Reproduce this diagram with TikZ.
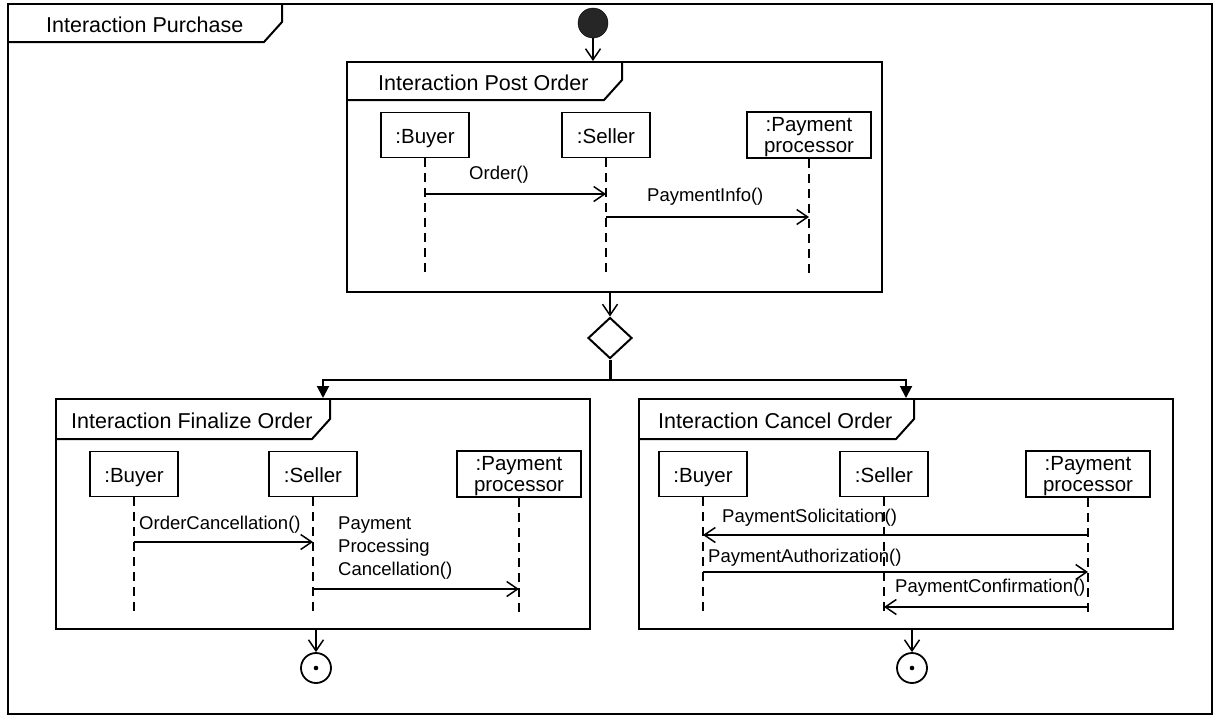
\documentclass[tikz,border=0pt]{standalone}
\usepackage{fontspec}
\setmainfont{Liberation Sans}
\usetikzlibrary{arrows.meta, positioning, shapes.geometric}

\begin{document}
\begin{tikzpicture}[x=1pt, y=-1pt, >={Straight Barb[length=11pt,width=15pt]},
  lifebox/.style={draw, line width=1.8pt, align=center, minimum width=88pt, minimum height=45pt, inner sep=1pt, font=\fontsize{20.5}{23}\selectfont},
  onebox/.style={lifebox, text height=19pt, text depth=2.3pt},
  twobox/.style={lifebox, minimum width=124pt, minimum height=46pt, text height=34pt, text depth=0pt, font=\fontsize{20.5}{21}\selectfont},
  life/.style={line width=1.8pt, dash pattern=on 9pt off 6pt},
  msg/.style={->, line width=1.5pt},
  lbl/.style={anchor=west, inner sep=0pt, align=left, font=\fontsize{18.5}{23}\selectfont},
  title/.style={anchor=west, inner sep=0pt, font=\fontsize{21.5}{26}\selectfont},
  frame/.style={draw, line width=2pt, inner sep=0pt},
  branch/.style={-{Triangle[length=12pt,width=12pt]}, line width=2pt}]
  \useasboundingbox (0,0) rectangle (1219,721);
  % Rahmen
  \node[frame, minimum width=1204pt, minimum height=710pt] (outer) at (610,359) {};
  \node[frame, minimum width=535pt, minimum height=230pt] (post) at (614.5,177) {};
  \node[frame, minimum width=534pt, minimum height=230pt] (fin) at (323,514) {};
  \node[frame, minimum width=534pt, minimum height=230pt] (can) at (906,514) {};
  \foreach \f/\w/\d in {outer/257/39pt, post/258/39pt, fin/257/41pt, can/258/41pt}
    \draw[line width=2pt] ([yshift=-\d]\f.north west) -- ++(\w,0) -- ++(18,-20) coordinate (tab) -- (tab |- \f.north);
  \node[title] (outerT) at (46,25) {Interaction Purchase};
  \node[title] (postT) at (378,83) {Interaction Post Order};
  \node[title] (finT) at (71,421) {Interaction Finalize Order};
  \node[title] (canT) at (658,421) {Interaction Cancel Order};
  % Ablauf
  \node[circle, draw, fill=black!85, minimum size=30pt, inner sep=0pt] (start) at (593,23) {};
  \draw[msg] (start) -- (start |- post.north);
  \node[diamond, draw, line width=2pt, minimum width=44pt, minimum height=41pt, inner sep=0pt] (dec) at (610,338) {};
  \draw[msg] (post.south -| dec) -- (dec.north);
  \coordinate (fork) at (610,380);
  \draw[line width=3pt] (dec.south) -- (fork);
  \draw[branch] (fork) -| (fin.north);
  \draw[branch] (fork) -| (can.north);
  \node[circle, draw, line width=1.8pt, minimum size=30pt, inner sep=0pt] (endF) at (316,668) {};
  \node[circle, draw, line width=1.8pt, minimum size=30pt, inner sep=0pt] (endC) at (912,668) {};
  \fill (endF.center) circle (2.3pt);
  \fill (endC.center) circle (2.3pt);
  \draw[msg] (fin.south -| endF) -- (endF.north);
  \draw[msg] (can.south -| endC) -- (endC.north);
  % Post Order
  \node[onebox] (buyerP) at (425,135) {:Buyer};
  \node[onebox] (sellerP) at (606,135) {:Seller};
  \node[twobox] (procP) at (809,135) {:Payment\\processor};
  \foreach \n in {buyerP, sellerP, procP}
    \draw[life] (\n.south) -- (\n |- 0,277);
  \draw[msg] (buyerP |- 0,194) -- (sellerP |- 0,194);
  \node[lbl] (mOrder) at (469,175) {Order()};
  \draw[msg] (sellerP |- 0,217) -- (procP |- 0,217);
  \node[lbl] (mInfo) at (647,197) {PaymentInfo()};
  % Finalize Order
  \node[onebox] (buyerF) at (134,474) {:Buyer};
  \node[onebox] (sellerF) at (313,474) {:Seller};
  \node[twobox] (procF) at (519,474) {:Payment\\processor};
  \foreach \n in {buyerF, sellerF, procF}
    \draw[life] (\n.south) -- (\n |- 0,612);
  \draw[msg] (buyerF |- 0,542) -- (sellerF |- 0,542);
  \node[lbl] (mCancel) at (139,525) {OrderCancellation()};
  \draw[msg] (sellerF |- 0,589) -- (procF |- 0,589);
  \node[lbl] (mProc) at (338,548) {Payment\\Processing\\Cancellation()};
  % Cancel Order
  \node[onebox] (buyerC) at (703,474) {:Buyer};
  \node[onebox] (sellerC) at (884,474) {:Seller};
  \node[twobox] (procC) at (1088,474) {:Payment\\processor};
  \foreach \n in {buyerC, sellerC, procC}
    \draw[life] (\n.south) -- (\n |- 0,612);
  \draw[msg] (procC |- 0,535) -- (buyerC |- 0,535);
  \node[lbl] (mSolic) at (722,518) {PaymentSolicitation()};
  \draw[msg] (buyerC |- 0,572) -- (procC |- 0,572);
  \node[lbl] (mAuth) at (708,558) {PaymentAuthorization()};
  \draw[msg] (procC |- 0,607) -- (sellerC |- 0,607);
  \node[lbl] (mConf) at (895,588) {PaymentConfirmation()};
\end{tikzpicture}
\end{document}
